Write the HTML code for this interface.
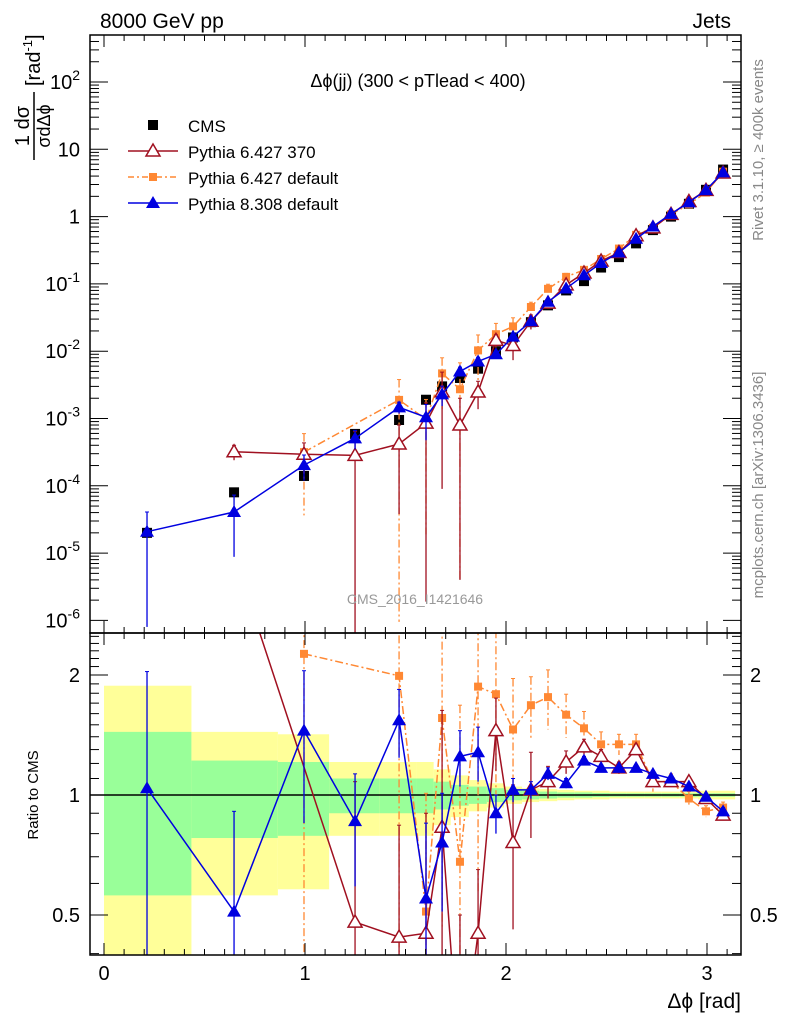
<!DOCTYPE html>
<html><head><meta charset="utf-8"><style>
html,body{margin:0;background:#fff;overflow:hidden;width:786px;height:1024px;}
svg{display:block;font-family:"Liberation Sans",sans-serif;}
</style></head><body>
<svg id="chart" width="786" height="1024" xmlns="http://www.w3.org/2000/svg"></svg>
<script>
const xs=[0.214,0.647,0.995,1.249,1.468,1.602,1.682,1.771,1.861,1.95,2.035,2.124,2.209,2.299,2.388,2.473,2.562,2.647,2.731,2.821,2.910,2.995,3.08];
const binEdges=[0,0.435,0.865,1.12,1.37,1.555,1.64,1.725,1.815,1.905,1.99,2.08,2.165,2.255,2.34,2.43,2.515,2.6,2.69,2.775,2.865,2.955,3.04,3.14];
const cmsVals=[2e-5,8e-5,1.4e-4,5.9e-4,9.5e-4,1.9e-3,3.0e-3,4.0e-3,5.5e-3,1.0e-2,1.6e-2,2.7e-2,4.8e-2,8e-2,0.11,0.175,0.25,0.4,0.63,1.0,1.55,2.5,5.0];
const statErr=[0.44,0.22,0.21,0.10,0.10,0.10,0.08,0.06,0.05,0.04,0.03,0.025,0.02,0.015,0.015,0.012,0.01,0.01,0.01,0.01,0.01,0.01,0.01];
const totErr=[0.88,0.44,0.42,0.21,0.21,0.21,0.16,0.12,0.09,0.07,0.05,0.04,0.035,0.03,0.025,0.025,0.02,0.02,0.02,0.02,0.02,0.025,0.025];
const p8Ratio=[1.04,0.51,1.45,0.86,1.54,0.55,0.76,1.25,1.28,0.90,1.03,1.03,1.13,1.07,1.22,1.17,1.17,1.17,1.13,1.10,1.05,0.99,0.91];
const p8Err=[1.0,0.4,0.6,0.27,0.3,0.3,0.25,0.2,0.2,0.1,0.07,0.05,0.04,0.03,0.03,0.02,0.02,0.02,0.02,0.02,0.02,0.02,0.02];
const p6Main=[null,4.0,2.1,0.48,0.44,0.45,0.83,0.2,0.45,1.45,0.76,1.03,1.08,1.21,1.32,1.25,1.17,1.30,1.08,1.08,1.08,0.98,0.89];
const p6Ratio=[null,4.0,null,0.48,0.44,0.45,0.83,0.2,0.45,1.45,0.76,1.03,1.08,1.21,1.32,1.25,1.17,1.30,1.08,1.08,1.08,0.98,0.89];
const p6Err=[0,1.0,1.0,0.6,0.4,0.45,0.8,0.3,0.2,0.3,0.3,0.25,0.1,0.08,0.06,0.05,0.04,0.04,0.03,0.03,0.03,0.02,0.02];
const p6dRatio=[null,null,2.26,null,1.99,0.51,1.56,0.68,1.87,1.79,1.46,1.68,1.76,1.59,1.47,1.34,1.34,1.34,1.08,1.08,0.98,0.91,0.93];
const p6dErr=[0,0,2.0,0,2.0,0.5,1.1,1.0,1.3,0.8,0.5,0.3,0.3,0.2,0.15,0.1,0.08,0.08,0.06,0.05,0.04,0.03,0.03];
const mainTicks=[-6,-5,-4,-3,-2,-1,0,1,2];
const ratioTicks=[0.5,1,2];
const xTicks=[0,1,2,3];

const svg=document.getElementById('chart');
const NS='http://www.w3.org/2000/svg';
const L=90,R=741,T=35,MB=633,RB=955;
const X=v=>104+v*201;
const Y=v=>82-(Math.log10(v)-2)*67.3;
const YR=r=>795-Math.log2(r)*120;
function el(tag,attrs,parent,text){const e=document.createElementNS(NS,tag);for(const k in attrs)e.setAttribute(k,attrs[k]);if(text!==undefined)e.textContent=text;(parent||svg).appendChild(e);return e;}
const clipM=el('clipPath',{id:'cm'});el('rect',{x:L,y:T,width:R-L,height:MB-T},clipM);
const clipR=el('clipPath',{id:'cr'});el('rect',{x:L,y:MB,width:R-L,height:RB-MB},clipR);
const gm=el('g',{'clip-path':'url(#cm)'});
const gr=el('g',{'clip-path':'url(#cr)'});

for(let i=0;i<xs.length;i++){
  const x0=X(binEdges[i]),x1=X(binEdges[i+1]);
  const y=el('rect',{x:x0,y:YR(1+totErr[i]),width:x1-x0,height:YR(Math.max(0.05,1-totErr[i]))-YR(1+totErr[i]),fill:'#ffff99'},gr);
  
  const g=el('rect',{x:x0,y:YR(1+statErr[i]),width:x1-x0,height:YR(1-statErr[i])-YR(1+statErr[i]),fill:'#99ff99'},gr);
  
}
el('line',{x1:L,x2:R,y1:YR(1),y2:YR(1),stroke:'#000','stroke-width':1.5},gr);

function marker(g,type,x,y,color){
  let m;
  if(type==='sq')m=el('rect',{x:x-5,y:y-5,width:10,height:10,fill:color},g);
  else if(type==='sqs')m=el('rect',{x:x-4,y:y-4,width:8,height:8,fill:color},g);
  else if(type==='tri')m=el('polygon',{points:`${x},${y-7} ${x-7},${y+5} ${x+7},${y+5}`,fill:color},g);
  else m=el('polygon',{points:`${x},${y-7} ${x-7},${y+5} ${x+7},${y+5}`,fill:'#fff',stroke:color,'stroke-width':1.5},g);
  return m;
}
function series(name,mainR,ratioR,err,color,type,dash){
  [[gm,'main',mainR],[gr,'ratio',ratioR]].forEach(([g,kind,ratio])=>{
    const pts=[];
    for(let i=0;i<xs.length;i++){
      if(ratio[i]===null)continue;
      const v=ratio[i];
      const yf=kind==='main'?(r=>Y(r*cmsVals[i])):YR;
      const px=X(xs[i]),py=yf(v);
      pts.push(px+','+py);
      const lo=Math.max(0.001,v-err[i]),hi=v+err[i];
      const eb=el('line',{x1:px,x2:px,y1:yf(hi),y2:yf(lo),stroke:color,'stroke-width':1.3,'stroke-dasharray':dash||'none'},g);
      
      el('line',{x1:px-2,x2:px+2,y1:yf(hi),y2:yf(hi),stroke:color},g);
    }
    const pl=el('polyline',{points:pts.join(' '),fill:'none',stroke:color,'stroke-width':1.5,'stroke-dasharray':dash||'none'},g);
    
    for(let i=0;i<xs.length;i++){
      if(ratio[i]===null)continue;
      const yf=kind==='main'?(r=>Y(r*cmsVals[i])):YR;
      const m=marker(g,type,X(xs[i]),yf(ratio[i]),color);
      
    }
  });
}
for(let i=0;i<xs.length;i++){
  const m=marker(gm,'sq',X(xs[i]),Y(cmsVals[i]),'#000');
  
}
series('pythia6-default',p6dRatio,p6dRatio,p6dErr,'#ff8833','sqs','8,3,2,3');
series('pythia6-370',p6Main,p6Ratio,p6Err,'#a01020','otri');
series('pythia8',p8Ratio,p8Ratio,p8Err,'#0000e0','tri');

el('rect',{x:L,y:T,width:R-L,height:MB-T,fill:'none',stroke:'#000','stroke-width':1.5});
el('rect',{x:L,y:MB,width:R-L,height:RB-MB,fill:'none',stroke:'#000','stroke-width':1.5});
for(let k=0;k<=31;k++){
  const v=k/10,px=X(v),maj=k%10===0,len=maj?12:6;
  [T,MB].forEach(yt=>el('line',{x1:px,x2:px,y1:yt,y2:yt+len,stroke:'#000'}));
  [MB,RB].forEach(yb=>el('line',{x1:px,x2:px,y1:yb,y2:yb-len,stroke:'#000'}));
}
xTicks.forEach(v=>{const t=el('text',{x:X(v),y:980,'font-size':20,'text-anchor':'middle'},svg,String(v));});
mainTicks.forEach(e=>{
  for(let k=1;k<10;k++){
    const py=Y(k*Math.pow(10,e));if(py<T||py>MB)continue;
    const len=k===1?18:9;
    el('line',{x1:L,x2:L+len,y1:py,y2:py,stroke:'#000'});
    el('line',{x1:R,x2:R-len,y1:py,y2:py,stroke:'#000'});
  }
  const py=Y(Math.pow(10,e));
  let lab;
  if(e===0)lab=el('text',{x:80,y:py+7,'font-size':20,'text-anchor':'end'},svg,'1');
  else if(e===1)lab=el('text',{x:80,y:py+7,'font-size':20,'text-anchor':'end'},svg,'10');
  else{lab=el('text',{x:80,y:py+7,'font-size':20,'text-anchor':'end'});
    el('tspan',{},lab,'10');el('tspan',{dy:-9,'font-size':14},lab,String(e));}
  
});
for(let k=4;k<=26;k++){
  const r=k/10,py=YR(r);if(py<MB||py>RB)continue;
  const maj=ratioTicks.some(t=>Math.abs(t-r)<0.01),len=maj?18:9;
  el('line',{x1:L,x2:L+len,y1:py,y2:py,stroke:'#000'});el('line',{x1:R,x2:R-len,y1:py,y2:py,stroke:'#000'});
}
ratioTicks.forEach(r=>{
  const a=el('text',{x:80,y:YR(r)+7,'font-size':20,'text-anchor':'end'},svg,String(r));
  const b=el('text',{x:750,y:YR(r)+7,'font-size':20},svg,String(r));
});
function txt(name,attrs,s){const t=el('text',attrs,svg,s);return t;}
txt('header-energy',{x:100,y:28,'font-size':21},'8000 GeV pp');
txt('header-process',{x:731,y:28,'font-size':21,'text-anchor':'end'},'Jets');
txt('plot-title',{x:418,y:87,'font-size':18,'text-anchor':'middle'},'Δϕ(jj) (300 < pTlead <  400)');
txt('watermark',{x:415,y:604,'font-size':14,'text-anchor':'middle',fill:'#999'},'CMS_2016_I1421646');
txt('rivet-label',{x:0,y:0,'font-size':15,fill:'#888','text-anchor':'middle',transform:'translate(763,150) rotate(-90)'},'Rivet 3.1.10, ≥ 400k events');
txt('mcplots-label',{x:0,y:0,'font-size':15,fill:'#888','text-anchor':'middle',transform:'translate(763,485) rotate(-90)'},'mcplots.cern.ch [arXiv:1306.3436]');
txt('ratio-y-title',{x:0,y:0,'font-size':15,'text-anchor':'middle',transform:'translate(38,795) rotate(-90)'},'Ratio to CMS');
txt('x-axis-title',{x:741,y:1008,'font-size':21,'text-anchor':'end'},'Δϕ [rad]');
const yt=el('g',{transform:'translate(32,100) rotate(-90)'});
el('text',{x:-26,y:-3,'font-size':20,'text-anchor':'middle'},yt,'1 dσ');
el('line',{x1:-60,x2:8,y1:2,y2:2,stroke:'#000','stroke-width':1.5},yt);
el('text',{x:-26,y:18,'font-size':18,'text-anchor':'middle'},yt,'σdΔϕ');
const ya=el('text',{x:14,y:8,'font-size':20},yt);el('tspan',{},ya,'[rad');el('tspan',{dy:-8,'font-size':13},ya,'-1');el('tspan',{dy:8},ya,']');
const leg=[['CMS','#000','sq',null],['Pythia 6.427 370','#a01020','otri',null],['Pythia 6.427 default','#ff8833','sqs','6,3,2,3'],['Pythia 8.308 default','#0000e0','tri',null]];
leg.forEach((e,i)=>{
  const g=el('g',{});
  const y=125+i*26;
  if(i>0)el('line',{x1:128,x2:178,y1:y,y2:y,stroke:e[1],'stroke-width':1.5,'stroke-dasharray':e[3]||'none'},g);
  marker(g,e[2],153,y,e[1]);
  el('text',{x:188,y:y+7,'font-size':17},g,e[0]);
});
</script>
</body></html>
